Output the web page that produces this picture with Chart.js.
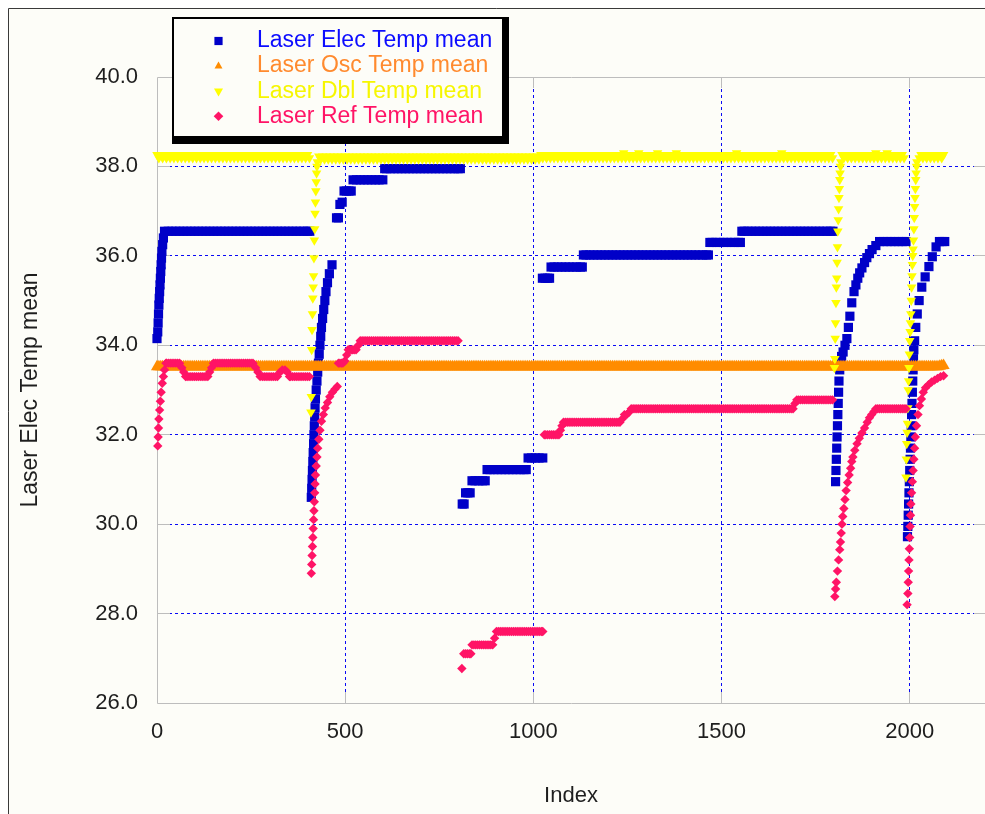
<!DOCTYPE html>
<html lang="en">
<head>
<meta charset="utf-8">
<title>Laser Elec Temp mean</title>
<script src="https://cdn.jsdelivr.net/npm/chart.js@4.4.1/dist/chart.umd.min.js"></script>
<style>
  html, body { margin: 0; padding: 0; background: #fff; overflow: hidden; }
  canvas { display: block; }
</style>
</head>
<body>
<canvas id="tempChart" width="985" height="814"></canvas>
<script>
const xTickValues = [0, 500, 1000, 1500, 2000];
const yTickValues = [26, 28, 30, 32, 34, 36, 38, 40];

const seriesNames = [
  "Laser Elec Temp mean",
  "Laser Osc Temp mean",
  "Laser Dbl Temp mean",
  "Laser Ref Temp mean"
];

// [index, temperature]
const elecTemp = [
  [0, 34.15], [2, 34.3], [3, 34.5], [4, 34.7], [5, 34.9], [6, 35.05], [7, 35.2], [8, 35.35],
  [9, 35.5], [10, 35.65], [11, 35.8], [12, 35.95], [13, 36.1], [15, 36.25], [17, 36.4], [20, 36.55],
  [30, 36.55], [40, 36.55], [50, 36.55], [60, 36.55], [70, 36.55], [80, 36.55], [90, 36.55], [100, 36.55],
  [110, 36.55], [120, 36.55], [130, 36.55], [140, 36.55], [150, 36.55], [160, 36.55], [170, 36.55], [180, 36.55],
  [190, 36.55], [200, 36.55], [210, 36.55], [220, 36.55], [230, 36.55], [240, 36.55], [250, 36.55], [260, 36.55],
  [270, 36.55], [280, 36.55], [290, 36.55], [300, 36.55], [310, 36.55], [320, 36.55], [330, 36.55], [340, 36.55],
  [350, 36.55], [360, 36.55], [370, 36.55], [380, 36.55], [390, 36.55], [400, 36.55], [406, 36.55],
  [410, 30.6], [411, 30.8], [412, 31.0], [413, 31.2], [414, 31.4], [415, 31.6], [416, 31.8], [417, 32.0],
  [418, 32.2], [419, 32.4], [420, 32.6], [421, 32.8], [423, 33.0], [425, 33.2], [427, 33.4], [429, 33.6],
  [431, 33.8], [433, 34.0], [435, 34.2], [437, 34.4], [440, 34.6], [443, 34.8], [446, 35.0], [449, 35.2],
  [453, 35.4], [458, 35.6], [465, 35.8],
  [477, 36.85], [482, 36.85], [486, 37.15], [492, 37.2], [497, 37.45], [503, 37.45], [510, 37.45], [516, 37.45],
  [521, 37.7], [530, 37.7], [540, 37.7], [550, 37.7], [560, 37.7], [570, 37.7], [580, 37.7], [590, 37.7], [600, 37.7],
  [605, 37.95], [610, 37.95], [620, 37.95], [630, 37.95], [640, 37.95], [650, 37.95], [660, 37.95], [670, 37.95],
  [680, 37.95], [690, 37.95], [700, 37.95], [710, 37.95], [720, 37.95], [730, 37.95], [740, 37.95], [750, 37.95],
  [760, 37.95], [770, 37.95], [780, 37.95], [790, 37.95], [800, 37.95], [806, 37.95],
  [811, 30.45], [816, 30.45], [820, 30.7], [826, 30.7], [832, 30.7], [837, 30.97], [845, 30.97], [855, 30.97],
  [865, 30.97], [872, 30.97], [877, 31.22], [885, 31.22], [895, 31.22], [905, 31.22], [915, 31.22], [925, 31.22],
  [935, 31.22], [945, 31.22], [955, 31.22], [965, 31.22], [975, 31.22], [981, 31.22],
  [986, 31.48], [995, 31.48], [1005, 31.48], [1015, 31.48], [1025, 31.48],
  [1024, 35.5], [1031, 35.5], [1038, 35.5], [1043, 35.5], [1047, 35.75], [1055, 35.75], [1065, 35.75], [1075, 35.75],
  [1085, 35.75], [1095, 35.75], [1105, 35.75], [1115, 35.75], [1125, 35.75], [1130, 35.75],
  [1133, 36.02], [1140, 36.02], [1150, 36.02], [1160, 36.02], [1170, 36.02], [1180, 36.02], [1190, 36.02], [1200, 36.02],
  [1210, 36.02], [1220, 36.02], [1230, 36.02], [1240, 36.02], [1250, 36.02], [1260, 36.02], [1270, 36.02], [1280, 36.02],
  [1290, 36.02], [1300, 36.02], [1310, 36.02], [1320, 36.02], [1330, 36.02], [1340, 36.02], [1350, 36.02], [1360, 36.02],
  [1370, 36.02], [1380, 36.02], [1390, 36.02], [1400, 36.02], [1410, 36.02], [1420, 36.02], [1430, 36.02], [1440, 36.02],
  [1450, 36.02], [1460, 36.02], [1465, 36.02],
  [1469, 36.3], [1475, 36.3], [1485, 36.3], [1495, 36.3], [1505, 36.3], [1515, 36.3], [1525, 36.3], [1535, 36.3],
  [1545, 36.3], [1550, 36.3],
  [1554, 36.55], [1560, 36.55], [1570, 36.55], [1580, 36.55], [1590, 36.55], [1600, 36.55], [1610, 36.55], [1620, 36.55],
  [1630, 36.55], [1640, 36.55], [1650, 36.55], [1660, 36.55], [1670, 36.55], [1680, 36.55], [1690, 36.55], [1700, 36.55],
  [1710, 36.55], [1720, 36.55], [1730, 36.55], [1740, 36.55], [1750, 36.55], [1760, 36.55], [1770, 36.55], [1780, 36.55],
  [1790, 36.55], [1796, 36.55],
  [1803, 30.95], [1804, 31.2], [1805, 31.45], [1806, 31.7], [1807, 31.95], [1808, 32.2], [1809, 32.45], [1810, 32.7],
  [1811, 32.95], [1812, 33.2], [1814, 33.45], [1816, 33.65], [1819, 33.75], [1823, 33.85], [1828, 34.0], [1833, 34.15],
  [1837, 34.4], [1841, 34.65], [1846, 34.95], [1852, 35.2], [1857, 35.35], [1862, 35.5], [1867, 35.62], [1873, 35.73],
  [1880, 35.85], [1886, 35.96], [1893, 36.05], [1900, 36.14], [1910, 36.23], [1920, 36.32], [1930, 36.32], [1940, 36.32],
  [1950, 36.32], [1960, 36.32], [1970, 36.32], [1980, 36.32], [1990, 36.32],
  [1994, 29.72], [1995, 29.95], [1996, 30.2], [1997, 30.45], [1998, 30.7], [1999, 30.95], [2000, 31.2], [2001, 31.45],
  [2002, 31.7], [2003, 31.95], [2004, 32.2], [2005, 32.45], [2006, 32.7], [2007, 32.95], [2008, 33.2], [2009, 33.45],
  [2010, 33.7], [2011, 33.9], [2013, 34.1], [2016, 34.4], [2020, 34.7], [2025, 35.0], [2032, 35.3], [2041, 35.53],
  [2051, 35.76], [2060, 35.98], [2070, 36.2], [2079, 36.32], [2086, 36.32], [2093, 36.32]
];

const oscTemp = [
  [0, 33.52], [5, 33.52], [10, 33.52], [15, 33.52], [20, 33.52], [25, 33.52], [30, 33.52], [35, 33.52], [40, 33.52], [45, 33.52],
  [50, 33.52], [55, 33.52], [60, 33.52], [65, 33.52], [70, 33.52], [75, 33.52], [80, 33.52], [85, 33.52], [90, 33.52], [95, 33.52],
  [100, 33.52], [105, 33.52], [110, 33.52], [115, 33.52], [120, 33.52], [125, 33.52], [130, 33.52], [135, 33.52], [140, 33.52], [145, 33.52],
  [150, 33.52], [155, 33.52], [160, 33.52], [165, 33.52], [170, 33.52], [175, 33.52], [180, 33.52], [185, 33.52], [190, 33.52], [195, 33.52],
  [200, 33.52], [205, 33.52], [210, 33.52], [215, 33.52], [220, 33.52], [225, 33.52], [230, 33.52], [235, 33.52], [240, 33.52], [245, 33.52],
  [250, 33.52], [255, 33.52], [260, 33.52], [265, 33.52], [270, 33.52], [275, 33.52], [280, 33.52], [285, 33.52], [290, 33.52], [295, 33.52],
  [300, 33.52], [305, 33.52], [310, 33.52], [315, 33.52], [320, 33.52], [325, 33.52], [330, 33.52], [335, 33.52], [340, 33.52], [345, 33.52],
  [350, 33.52], [355, 33.52], [360, 33.52], [365, 33.52], [370, 33.52], [375, 33.52], [380, 33.52], [385, 33.52], [390, 33.52], [395, 33.52],
  [400, 33.52], [405, 33.52], [410, 33.52], [415, 33.52], [420, 33.52], [425, 33.52], [430, 33.52], [435, 33.52], [440, 33.52], [445, 33.52],
  [450, 33.52], [455, 33.52], [460, 33.52], [465, 33.52], [470, 33.52], [475, 33.52], [480, 33.52], [485, 33.52], [490, 33.52], [495, 33.52],
  [500, 33.52], [505, 33.52], [510, 33.52], [515, 33.52], [520, 33.52], [525, 33.52], [530, 33.52], [535, 33.52], [540, 33.52], [545, 33.52],
  [550, 33.52], [555, 33.52], [560, 33.52], [565, 33.52], [570, 33.52], [575, 33.52], [580, 33.52], [585, 33.52], [590, 33.52], [595, 33.52],
  [600, 33.52], [605, 33.52], [610, 33.52], [615, 33.52], [620, 33.52], [625, 33.52], [630, 33.52], [635, 33.52], [640, 33.52], [645, 33.52],
  [650, 33.52], [655, 33.52], [660, 33.52], [665, 33.52], [670, 33.52], [675, 33.52], [680, 33.52], [685, 33.52], [690, 33.52], [695, 33.52],
  [700, 33.52], [705, 33.52], [710, 33.52], [715, 33.52], [720, 33.52], [725, 33.52], [730, 33.52], [735, 33.52], [740, 33.52], [745, 33.52],
  [750, 33.52], [755, 33.52], [760, 33.52], [765, 33.52], [770, 33.52], [775, 33.52], [780, 33.52], [785, 33.52], [790, 33.52], [795, 33.52],
  [800, 33.52], [805, 33.52], [810, 33.52], [815, 33.52], [820, 33.52], [825, 33.52], [830, 33.52], [835, 33.52], [840, 33.52], [845, 33.52],
  [850, 33.52], [855, 33.52], [860, 33.52], [865, 33.52], [870, 33.52], [875, 33.52], [880, 33.52], [885, 33.52], [890, 33.52], [895, 33.52],
  [900, 33.52], [905, 33.52], [910, 33.52], [915, 33.52], [920, 33.52], [925, 33.52], [930, 33.52], [935, 33.52], [940, 33.52], [945, 33.52],
  [950, 33.52], [955, 33.52], [960, 33.52], [965, 33.52], [970, 33.52], [975, 33.52], [980, 33.52], [985, 33.52], [990, 33.52], [995, 33.52],
  [1000, 33.52], [1005, 33.52], [1010, 33.52], [1015, 33.52], [1020, 33.52], [1025, 33.52], [1030, 33.52], [1035, 33.52], [1040, 33.52], [1045, 33.52],
  [1050, 33.52], [1055, 33.52], [1060, 33.52], [1065, 33.52], [1070, 33.52], [1075, 33.52], [1080, 33.52], [1085, 33.52], [1090, 33.52], [1095, 33.52],
  [1100, 33.52], [1105, 33.52], [1110, 33.52], [1115, 33.52], [1120, 33.52], [1125, 33.52], [1130, 33.52], [1135, 33.52], [1140, 33.52], [1145, 33.52],
  [1150, 33.52], [1155, 33.52], [1160, 33.52], [1165, 33.52], [1170, 33.52], [1175, 33.52], [1180, 33.52], [1185, 33.52], [1190, 33.52], [1195, 33.52],
  [1200, 33.52], [1205, 33.52], [1210, 33.52], [1215, 33.52], [1220, 33.52], [1225, 33.52], [1230, 33.52], [1235, 33.52], [1240, 33.52], [1245, 33.52],
  [1250, 33.52], [1255, 33.52], [1260, 33.52], [1265, 33.52], [1270, 33.52], [1275, 33.52], [1280, 33.52], [1285, 33.52], [1290, 33.52], [1295, 33.52],
  [1300, 33.52], [1305, 33.52], [1310, 33.52], [1315, 33.52], [1320, 33.52], [1325, 33.52], [1330, 33.52], [1335, 33.52], [1340, 33.52], [1345, 33.52],
  [1350, 33.52], [1355, 33.52], [1360, 33.52], [1365, 33.52], [1370, 33.52], [1375, 33.52], [1380, 33.52], [1385, 33.52], [1390, 33.52], [1395, 33.52],
  [1400, 33.52], [1405, 33.52], [1410, 33.52], [1415, 33.52], [1420, 33.52], [1425, 33.52], [1430, 33.52], [1435, 33.52], [1440, 33.52], [1445, 33.52],
  [1450, 33.52], [1455, 33.52], [1460, 33.52], [1465, 33.52], [1470, 33.52], [1475, 33.52], [1480, 33.52], [1485, 33.52], [1490, 33.52], [1495, 33.52],
  [1500, 33.52], [1505, 33.52], [1510, 33.52], [1515, 33.52], [1520, 33.52], [1525, 33.52], [1530, 33.52], [1535, 33.52], [1540, 33.52], [1545, 33.52],
  [1550, 33.52], [1555, 33.52], [1560, 33.52], [1565, 33.52], [1570, 33.52], [1575, 33.52], [1580, 33.52], [1585, 33.52], [1590, 33.52], [1595, 33.52],
  [1600, 33.52], [1605, 33.52], [1610, 33.52], [1615, 33.52], [1620, 33.52], [1625, 33.52], [1630, 33.52], [1635, 33.52], [1640, 33.52], [1645, 33.52],
  [1650, 33.52], [1655, 33.52], [1660, 33.52], [1665, 33.52], [1670, 33.52], [1675, 33.52], [1680, 33.52], [1685, 33.52], [1690, 33.52], [1695, 33.52],
  [1700, 33.52], [1705, 33.52], [1710, 33.52], [1715, 33.52], [1720, 33.52], [1725, 33.52], [1730, 33.52], [1735, 33.52], [1740, 33.52], [1745, 33.52],
  [1750, 33.52], [1755, 33.52], [1760, 33.52], [1765, 33.52], [1770, 33.52], [1775, 33.52], [1780, 33.52], [1785, 33.52], [1790, 33.52], [1795, 33.52],
  [1800, 33.52], [1805, 33.52], [1810, 33.52], [1815, 33.52], [1820, 33.52], [1825, 33.52], [1830, 33.52], [1835, 33.52], [1840, 33.52], [1845, 33.52],
  [1850, 33.52], [1855, 33.52], [1860, 33.52], [1865, 33.52], [1870, 33.52], [1875, 33.52], [1880, 33.52], [1885, 33.52], [1890, 33.52], [1895, 33.52],
  [1900, 33.52], [1905, 33.52], [1910, 33.52], [1915, 33.52], [1920, 33.52], [1925, 33.52], [1930, 33.52], [1935, 33.52], [1940, 33.52], [1945, 33.52],
  [1950, 33.52], [1955, 33.52], [1960, 33.52], [1965, 33.52], [1970, 33.52], [1975, 33.52], [1980, 33.52], [1985, 33.52], [1990, 33.52], [1995, 33.52],
  [2000, 33.52], [2005, 33.52], [2010, 33.52], [2015, 33.52], [2020, 33.52], [2025, 33.52], [2030, 33.52], [2035, 33.52], [2040, 33.52], [2045, 33.52],
  [2050, 33.52], [2055, 33.52], [2060, 33.52], [2065, 33.52], [2070, 33.52], [2075, 33.52], [2080, 33.53], [2085, 33.54], [2090, 33.55]
];

const dblTemp = [
  [0, 38.26], [5, 38.19], [10, 38.26], [15, 38.19], [20, 38.26], [25, 38.19], [30, 38.26], [35, 38.19], [40, 38.26], [45, 38.19],
  [50, 38.26], [55, 38.19], [60, 38.26], [65, 38.19], [70, 38.26], [75, 38.19], [80, 38.26], [85, 38.19], [90, 38.26], [95, 38.19],
  [100, 38.26], [105, 38.19], [110, 38.26], [115, 38.19], [120, 38.26], [125, 38.19], [130, 38.26], [135, 38.19], [140, 38.26], [145, 38.19],
  [150, 38.26], [155, 38.19], [160, 38.26], [165, 38.19], [170, 38.26], [175, 38.19], [180, 38.26], [185, 38.19], [190, 38.26], [195, 38.19],
  [200, 38.26], [205, 38.19], [210, 38.26], [215, 38.19], [220, 38.26], [225, 38.19], [230, 38.26], [235, 38.19], [240, 38.26], [245, 38.19],
  [250, 38.26], [255, 38.19], [260, 38.26], [265, 38.19], [270, 38.26], [275, 38.19], [280, 38.26], [285, 38.19], [290, 38.26], [295, 38.19],
  [300, 38.26], [305, 38.19], [310, 38.26], [315, 38.19], [320, 38.26], [325, 38.19], [330, 38.26], [335, 38.19], [340, 38.26], [345, 38.19],
  [350, 38.26], [355, 38.19], [360, 38.26], [365, 38.19], [370, 38.26], [375, 38.19], [380, 38.26], [385, 38.19], [390, 38.26], [395, 38.19],
  [400, 38.26], [405, 38.19],
  [409, 32.5], [410, 32.85], [411, 33.9], [412, 34.35], [413, 34.7], [414, 35.05], [415, 35.3], [416, 35.55], [417, 35.95],
  [418, 36.35], [419, 36.6], [420, 36.95], [421, 37.2], [422, 37.45], [423, 37.65], [424, 37.85], [425, 38.0], [426, 38.1],
  [430, 38.23], [435, 38.16], [440, 38.23], [445, 38.16], [450, 38.23], [455, 38.16], [460, 38.23], [465, 38.16], [470, 38.23], [475, 38.16],
  [480, 38.23], [485, 38.16], [490, 38.23], [495, 38.16], [500, 38.23], [505, 38.16], [510, 38.23], [515, 38.16], [520, 38.23], [525, 38.16],
  [530, 38.23], [535, 38.16], [540, 38.23], [545, 38.16], [550, 38.23], [555, 38.16], [560, 38.23], [565, 38.16], [570, 38.23], [575, 38.16],
  [580, 38.23], [585, 38.16], [590, 38.23], [595, 38.16], [600, 38.23], [605, 38.16], [610, 38.23], [615, 38.16], [620, 38.23], [625, 38.16],
  [630, 38.23], [635, 38.16], [640, 38.23], [645, 38.16], [650, 38.23], [655, 38.16], [660, 38.23], [665, 38.16], [670, 38.23], [675, 38.16],
  [680, 38.23], [685, 38.16], [690, 38.23], [695, 38.16], [700, 38.23], [705, 38.16], [710, 38.23], [715, 38.16], [720, 38.23], [725, 38.16],
  [730, 38.23], [735, 38.16], [740, 38.23], [745, 38.16], [750, 38.23], [755, 38.16], [760, 38.23], [765, 38.16], [770, 38.23], [775, 38.16],
  [780, 38.23], [785, 38.16], [790, 38.23], [795, 38.16], [800, 38.23], [805, 38.16], [810, 38.23], [815, 38.16], [820, 38.23], [825, 38.16],
  [830, 38.23], [835, 38.16], [840, 38.23], [845, 38.16], [850, 38.23], [855, 38.16], [860, 38.23], [865, 38.16], [870, 38.23], [875, 38.16],
  [880, 38.23], [885, 38.16], [890, 38.23], [895, 38.16], [900, 38.23], [905, 38.16], [910, 38.23], [915, 38.16], [920, 38.23], [925, 38.16],
  [930, 38.23], [935, 38.16], [940, 38.23], [945, 38.16], [950, 38.23], [955, 38.16], [960, 38.23], [965, 38.16], [970, 38.23], [975, 38.16],
  [980, 38.23], [985, 38.16], [990, 38.23], [995, 38.16], [1000, 38.23], [1005, 38.16], [1010, 38.23], [1015, 38.16],
  [1020, 38.26], [1025, 38.19], [1030, 38.26], [1035, 38.19], [1040, 38.26], [1045, 38.19], [1050, 38.26], [1055, 38.19], [1060, 38.26], [1065, 38.19],
  [1070, 38.26], [1075, 38.19], [1080, 38.26], [1085, 38.19], [1090, 38.26], [1095, 38.19], [1100, 38.26], [1105, 38.19], [1110, 38.26], [1115, 38.19],
  [1120, 38.26], [1125, 38.19], [1130, 38.26], [1135, 38.19], [1140, 38.26], [1145, 38.19], [1150, 38.26], [1155, 38.19], [1160, 38.26], [1165, 38.19],
  [1170, 38.26], [1175, 38.19], [1180, 38.26], [1185, 38.19], [1190, 38.26], [1195, 38.19], [1200, 38.26], [1205, 38.19], [1210, 38.26], [1215, 38.19],
  [1220, 38.26], [1225, 38.19], [1230, 38.26], [1235, 38.19], [1240, 38.3], [1245, 38.19], [1250, 38.26], [1255, 38.19], [1260, 38.26], [1265, 38.19],
  [1270, 38.26], [1275, 38.19], [1280, 38.3], [1285, 38.19], [1290, 38.26], [1295, 38.19], [1300, 38.26], [1305, 38.19], [1310, 38.26], [1315, 38.19],
  [1320, 38.26], [1325, 38.19], [1330, 38.3], [1335, 38.19], [1340, 38.26], [1345, 38.19], [1350, 38.26], [1355, 38.19], [1360, 38.26], [1365, 38.19],
  [1370, 38.26], [1375, 38.19], [1380, 38.3], [1385, 38.19], [1390, 38.26], [1395, 38.19], [1400, 38.26], [1405, 38.19], [1410, 38.26], [1415, 38.19],
  [1420, 38.26], [1425, 38.19], [1430, 38.26], [1435, 38.19], [1440, 38.26], [1445, 38.19], [1450, 38.26], [1455, 38.19], [1460, 38.26], [1465, 38.19],
  [1470, 38.26], [1475, 38.19], [1480, 38.26], [1485, 38.19], [1490, 38.26], [1495, 38.19], [1500, 38.26], [1505, 38.19], [1510, 38.26], [1515, 38.19],
  [1520, 38.26], [1525, 38.19], [1530, 38.26], [1535, 38.19], [1540, 38.3], [1545, 38.19], [1550, 38.26], [1555, 38.19], [1560, 38.26], [1565, 38.19],
  [1570, 38.26], [1575, 38.19], [1580, 38.26], [1585, 38.19], [1590, 38.26], [1595, 38.19], [1600, 38.26], [1605, 38.19], [1610, 38.26], [1615, 38.19],
  [1620, 38.26], [1625, 38.19], [1630, 38.26], [1635, 38.19], [1640, 38.26], [1645, 38.19], [1650, 38.26], [1655, 38.19], [1660, 38.3], [1665, 38.19],
  [1670, 38.26], [1675, 38.19], [1680, 38.26], [1685, 38.19], [1690, 38.26], [1695, 38.19], [1700, 38.26], [1705, 38.19], [1710, 38.26], [1715, 38.19],
  [1720, 38.26], [1725, 38.19], [1730, 38.26], [1735, 38.19], [1740, 38.26], [1745, 38.19], [1750, 38.26], [1755, 38.19], [1760, 38.26], [1765, 38.19],
  [1770, 38.26], [1775, 38.19], [1780, 38.26], [1785, 38.19], [1790, 38.26], [1795, 38.19],
  [1800, 33.5], [1801, 33.7], [1802, 34.15], [1803, 34.5], [1804, 34.95], [1805, 35.3], [1806, 35.5], [1807, 35.85], [1808, 36.2],
  [1809, 36.55], [1810, 36.8], [1811, 37.05], [1812, 37.3], [1813, 37.5], [1814, 37.7], [1815, 37.85], [1816, 38.0], [1817, 38.1],
  [1820, 38.26], [1825, 38.19], [1830, 38.26], [1835, 38.19], [1840, 38.26], [1845, 38.19], [1850, 38.26], [1855, 38.19], [1860, 38.26], [1865, 38.19],
  [1870, 38.26], [1875, 38.19], [1880, 38.26], [1885, 38.19], [1890, 38.26], [1895, 38.19], [1900, 38.26], [1905, 38.19], [1910, 38.3], [1915, 38.19],
  [1920, 38.26], [1925, 38.19], [1930, 38.26], [1935, 38.19], [1940, 38.3], [1945, 38.19], [1950, 38.26], [1955, 38.19], [1960, 38.26], [1965, 38.19],
  [1970, 38.26], [1975, 38.19], [1980, 38.26], [1985, 38.19],
  [1990, 31.05], [1991, 31.45], [1992, 31.8], [1993, 32.05], [1994, 32.25], [1995, 32.6], [1996, 33.0], [1997, 33.2], [1998, 33.5],
  [1999, 33.8], [2000, 34.1], [2001, 34.3], [2002, 34.5], [2003, 34.7], [2004, 35.0], [2005, 35.3], [2006, 35.55], [2007, 35.8],
  [2008, 36.0], [2009, 36.15], [2010, 36.35], [2011, 36.6], [2012, 36.85], [2013, 37.1], [2014, 37.3], [2015, 37.5], [2016, 37.7],
  [2017, 37.85], [2018, 38.0], [2019, 38.1],
  [2025, 38.19], [2030, 38.26], [2035, 38.19], [2040, 38.26], [2045, 38.19], [2050, 38.26], [2055, 38.19], [2060, 38.26], [2065, 38.19], [2070, 38.26],
  [2075, 38.19], [2080, 38.26], [2085, 38.19], [2090, 38.26]
];

const refTemp = [
  [2, 31.75], [3, 31.95], [4, 32.15], [5, 32.35], [7, 32.55], [9, 32.75], [11, 32.95], [14, 33.15], [17, 33.3], [20, 33.45],
  [24, 33.6], [25, 33.6], [30, 33.6], [35, 33.6], [40, 33.6], [45, 33.6], [50, 33.6], [55, 33.6], [60, 33.6],
  [66, 33.5], [71, 33.4], [76, 33.3], [80, 33.3], [85, 33.3], [90, 33.3], [95, 33.3], [100, 33.3], [105, 33.3], [110, 33.3],
  [115, 33.3], [120, 33.3], [125, 33.3], [130, 33.3], [135, 33.3], [140, 33.4], [145, 33.5],
  [150, 33.6], [155, 33.6], [160, 33.6], [165, 33.6], [170, 33.6], [175, 33.6], [180, 33.6], [185, 33.6], [190, 33.6], [195, 33.6],
  [200, 33.6], [205, 33.6], [210, 33.6], [215, 33.6], [220, 33.6], [225, 33.6], [230, 33.6], [235, 33.6], [240, 33.6], [245, 33.6],
  [250, 33.6], [255, 33.6], [262, 33.5], [268, 33.4], [274, 33.3], [280, 33.3], [285, 33.3], [290, 33.3], [295, 33.3], [300, 33.3],
  [305, 33.3], [310, 33.3], [315, 33.3], [320, 33.3], [327, 33.4], [333, 33.45], [340, 33.45], [346, 33.4], [352, 33.3], [355, 33.3],
  [360, 33.3], [365, 33.3], [370, 33.3], [375, 33.3], [380, 33.3], [385, 33.3], [390, 33.3], [395, 33.3], [400, 33.3], [405, 33.3],
  [410, 28.9], [411, 29.1], [412, 29.3], [413, 29.5], [414, 29.7], [415, 29.9], [416, 30.1], [417, 30.3], [418, 30.5], [419, 30.7],
  [420, 30.9], [421, 31.1], [423, 31.3], [425, 31.5], [427, 31.7], [430, 31.9], [433, 32.1], [437, 32.3], [442, 32.45], [447, 32.6],
  [453, 32.72], [459, 32.85], [466, 32.95], [473, 33.02], [479, 33.08],
  [482, 33.6], [486, 33.6], [490, 33.6], [494, 33.6], [499, 33.65], [504, 33.78], [508, 33.9], [512, 33.9], [516, 33.9], [520, 33.9],
  [524, 33.9], [529, 33.9], [535, 34.0], [540, 34.1], [545, 34.1], [550, 34.1], [555, 34.1], [560, 34.1], [565, 34.1], [570, 34.1],
  [575, 34.1], [580, 34.1], [585, 34.1], [590, 34.1], [595, 34.1], [600, 34.1], [605, 34.1], [610, 34.1], [615, 34.1], [620, 34.1],
  [625, 34.1], [630, 34.1], [635, 34.1], [640, 34.1], [645, 34.1], [650, 34.1], [655, 34.1], [660, 34.1], [665, 34.1], [670, 34.1],
  [675, 34.1], [680, 34.1], [685, 34.1], [690, 34.1], [695, 34.1], [700, 34.1], [705, 34.1], [710, 34.1], [715, 34.1], [720, 34.1],
  [725, 34.1], [730, 34.1], [735, 34.1], [740, 34.1], [745, 34.1], [750, 34.1], [755, 34.1], [760, 34.1], [765, 34.1], [770, 34.1],
  [775, 34.1], [780, 34.1], [785, 34.1], [790, 34.1], [795, 34.1], [800, 34.1],
  [810, 26.77], [815, 27.1], [820, 27.1], [825, 27.1], [830, 27.1], [834, 27.1], [837, 27.3], [842, 27.3], [847, 27.3], [852, 27.3],
  [857, 27.3], [862, 27.3], [867, 27.3], [872, 27.3], [877, 27.3], [882, 27.3], [887, 27.3], [892, 27.3], [897, 27.45], [902, 27.6],
  [907, 27.6], [912, 27.6], [917, 27.6], [922, 27.6], [927, 27.6], [932, 27.6], [937, 27.6], [942, 27.6], [947, 27.6], [952, 27.6],
  [957, 27.6], [962, 27.6], [967, 27.6], [972, 27.6], [977, 27.6], [982, 27.6], [987, 27.6], [992, 27.6], [997, 27.6], [1002, 27.6],
  [1007, 27.6], [1012, 27.6], [1017, 27.6], [1022, 27.6], [1025, 27.6],
  [1029, 32.0], [1033, 32.0], [1038, 32.0], [1043, 32.0], [1048, 32.0], [1053, 32.0], [1058, 32.0], [1063, 32.0], [1068, 32.0], [1072, 32.1],
  [1076, 32.2], [1080, 32.28], [1085, 32.28], [1090, 32.28], [1095, 32.28], [1100, 32.28], [1105, 32.28], [1110, 32.28], [1115, 32.28], [1120, 32.28],
  [1125, 32.28], [1130, 32.28], [1135, 32.28], [1140, 32.28], [1145, 32.28], [1150, 32.28], [1155, 32.28], [1160, 32.28], [1165, 32.28], [1170, 32.28],
  [1175, 32.28], [1180, 32.28], [1185, 32.28], [1190, 32.28], [1195, 32.28], [1200, 32.28], [1205, 32.28], [1210, 32.28], [1215, 32.28], [1220, 32.28],
  [1225, 32.28], [1230, 32.28], [1236, 32.35], [1242, 32.45], [1248, 32.45], [1254, 32.5],
  [1260, 32.58], [1265, 32.58], [1270, 32.58], [1275, 32.58], [1280, 32.58], [1285, 32.58], [1290, 32.58], [1295, 32.58], [1300, 32.58], [1305, 32.58],
  [1310, 32.58], [1315, 32.58], [1320, 32.58], [1325, 32.58], [1330, 32.58], [1335, 32.58], [1340, 32.58], [1345, 32.58], [1350, 32.58], [1355, 32.58],
  [1360, 32.58], [1365, 32.58], [1370, 32.58], [1375, 32.58], [1380, 32.58], [1385, 32.58], [1390, 32.58], [1395, 32.58], [1400, 32.58], [1405, 32.58],
  [1410, 32.58], [1415, 32.58], [1420, 32.58], [1425, 32.58], [1430, 32.58], [1435, 32.58], [1440, 32.58], [1445, 32.58], [1450, 32.58], [1455, 32.58],
  [1460, 32.58], [1465, 32.58], [1470, 32.58], [1475, 32.58], [1480, 32.58], [1485, 32.58], [1490, 32.58], [1495, 32.58], [1500, 32.58], [1505, 32.58],
  [1510, 32.58], [1515, 32.58], [1520, 32.58], [1525, 32.58], [1530, 32.58], [1535, 32.58], [1540, 32.58], [1545, 32.58], [1550, 32.58], [1555, 32.58],
  [1560, 32.58], [1565, 32.58], [1570, 32.58], [1575, 32.58], [1580, 32.58], [1585, 32.58], [1590, 32.58], [1595, 32.58], [1600, 32.58], [1605, 32.58],
  [1610, 32.58], [1615, 32.58], [1620, 32.58], [1625, 32.58], [1630, 32.58], [1635, 32.58], [1640, 32.58], [1645, 32.58], [1650, 32.58], [1655, 32.58],
  [1660, 32.58], [1665, 32.58], [1670, 32.58], [1675, 32.58], [1680, 32.58], [1685, 32.58], [1690, 32.58], [1695, 32.7],
  [1700, 32.78], [1705, 32.78], [1710, 32.78], [1715, 32.78], [1720, 32.78], [1725, 32.78], [1730, 32.78], [1735, 32.78], [1740, 32.78], [1745, 32.78],
  [1750, 32.78], [1755, 32.78], [1760, 32.78], [1765, 32.78], [1770, 32.78], [1775, 32.78], [1780, 32.78], [1785, 32.78], [1790, 32.78], [1795, 32.78],
  [1801, 28.38], [1803, 28.55], [1805, 28.7], [1808, 28.95], [1811, 29.2], [1814, 29.43], [1816, 29.6], [1818, 29.8], [1820, 30.0], [1822, 30.17],
  [1825, 30.35], [1828, 30.55], [1831, 30.75], [1835, 30.93], [1839, 31.1], [1843, 31.25], [1846, 31.4], [1849, 31.5], [1854, 31.65], [1860, 31.8],
  [1866, 31.92], [1873, 32.04], [1880, 32.15], [1887, 32.28], [1893, 32.38], [1899, 32.45], [1905, 32.52],
  [1910, 32.58], [1915, 32.58], [1920, 32.58], [1925, 32.58], [1930, 32.58], [1935, 32.58], [1940, 32.58], [1945, 32.58], [1950, 32.58], [1955, 32.58],
  [1960, 32.58], [1965, 32.58], [1970, 32.58], [1975, 32.58], [1980, 32.58], [1985, 32.58], [1990, 32.58],
  [1993, 28.2], [1995, 28.45], [1996, 28.7], [1997, 28.95], [1998, 29.2], [1999, 29.45], [2000, 29.7], [2001, 29.95], [2002, 30.2], [2003, 30.45],
  [2005, 30.7], [2007, 30.95], [2009, 31.2], [2011, 31.45], [2013, 31.7], [2015, 31.95], [2018, 32.2], [2022, 32.45], [2026, 32.65], [2031, 32.8],
  [2036, 32.95], [2042, 33.05], [2050, 33.12], [2058, 33.18], [2066, 33.22], [2074, 33.26], [2082, 33.3], [2090, 33.32]
];

const FONT = "'Liberation Sans', Arial, sans-serif";
const BG = "#fdfdf8";
const GRID_BLUE = "#0a0af5";
const FRAME_GRAY = "#bdbdbd";
const TEXT_DARK = "#1e1e1e";

const styles = [
  { color: "#0000c8", text: "#0c0cff", shape: "rect", radius: 6.5, rotation: 0, legendRadius: 5.8 },
  { color: "#ff8c00", text: "#ff8a2e", shape: "triangle", radius: 7, rotation: 0, legendRadius: 4.6 },
  { color: "#ffff00", text: "#f6f600", shape: "triangle", radius: 5.5, rotation: 180, legendRadius: 5.2 },
  { color: "#ff1466", text: "#ff1466", shape: "rectRot", radius: 4.7, rotation: 0, legendRadius: 4.8 }
];

function drawShape(ctx, shape, rotation, x, y, r) {
  ctx.beginPath();
  if (shape === "rect") {
    const h = r * Math.SQRT1_2;
    ctx.rect(x - h, y - h, 2 * h, 2 * h);
  } else if (shape === "rectRot") {
    ctx.moveTo(x, y - r);
    ctx.lineTo(x + r, y);
    ctx.lineTo(x, y + r);
    ctx.lineTo(x - r, y);
  } else {
    const dir = rotation === 180 ? -1 : 1;
    ctx.moveTo(x, y - dir * r);
    ctx.lineTo(x + r * 0.866, y + dir * r / 2);
    ctx.lineTo(x - r * 0.866, y + dir * r / 2);
  }
  ctx.closePath();
  ctx.fill();
}

const framePlugin = {
  id: "frame",
  beforeDraw(chart) {
    const ctx = chart.ctx;
    ctx.save();
    ctx.fillStyle = "#ffffff";
    ctx.fillRect(0, 0, chart.width, chart.height);
    ctx.fillStyle = BG;
    ctx.fillRect(9, 9, chart.width - 9, chart.height - 9);
    ctx.strokeStyle = "#3a3a3a";
    ctx.lineWidth = 1;
    ctx.beginPath();
    ctx.moveTo(8.5, chart.height);
    ctx.lineTo(8.5, 8.5);
    ctx.lineTo(chart.width, 8.5);
    ctx.stroke();
    ctx.restore();
  },
  beforeDatasetsDraw(chart) {
    const { ctx, chartArea: a, scales: { x, y } } = chart;
    const al = v => Math.round(v - 0.5) + 0.5;
    const stub = 11;
    ctx.save();
    ctx.strokeStyle = FRAME_GRAY;
    ctx.lineWidth = 1;
    ctx.beginPath();
    ctx.rect(al(a.left), al(a.top), al(a.right) - al(a.left), al(a.bottom) - al(a.top));
    xTickValues.forEach(v => {
      if (v === x.min) return;
      const px = al(x.getPixelForValue(v));
      ctx.moveTo(px, a.top); ctx.lineTo(px, a.top + stub);
      ctx.moveTo(px, a.bottom - stub); ctx.lineTo(px, a.bottom);
    });
    yTickValues.forEach(v => {
      if (v === y.min || v === y.max) return;
      const py = al(y.getPixelForValue(v));
      ctx.moveTo(a.left, py); ctx.lineTo(a.left + stub + 2, py);
      ctx.moveTo(a.right - stub, py); ctx.lineTo(a.right, py);
    });
    ctx.stroke();
    ctx.restore();
  },
  afterDraw(chart) {
    const ctx = chart.ctx;
    const box = { x: 172, y: 17, w: 331, h: 120 };
    ctx.save();
    // legend frame, thick right/bottom edge
    ctx.fillStyle = "#000000";
    ctx.fillRect(box.x, box.y, box.w + 6, box.h + 7);
    ctx.fillStyle = BG;
    ctx.fillRect(box.x + 2, box.y + 2, box.w - 3, box.h - 3);
    ctx.font = "23px " + FONT;
    ctx.textBaseline = "middle";
    ctx.textAlign = "left";
    seriesNames.forEach((name, i) => {
      const st = styles[i];
      const ry = 41 + i * 25.1;
      ctx.fillStyle = st.color;
      drawShape(ctx, st.shape, st.rotation, 218.5, ry, st.legendRadius);
      ctx.fillStyle = st.text;
      ctx.fillText(name, 257, ry);
    });
    ctx.restore();
  }
};

const allSeries = [elecTemp, oscTemp, dblTemp, refTemp];

const datasets = allSeries.map((pts, i) => ({
  label: seriesNames[i],
  data: pts.map(([x, y]) => ({ x, y })),
  pointStyle: styles[i].shape,
  pointRadius: styles[i].radius,
  pointHoverRadius: styles[i].radius,
  pointRotation: styles[i].rotation,
  pointBackgroundColor: styles[i].color,
  pointBorderColor: styles[i].color,
  pointBorderWidth: 0,
  showLine: false,
  clip: false,
  order: 3 - i
}));

new Chart(document.getElementById("tempChart"), {
  type: "scatter",
  data: { datasets },
  options: {
    responsive: false,
    animation: false,
    devicePixelRatio: 1,
    events: [],
    layout: { autoPadding: false, padding: { top: 77, right: 0, bottom: 0, left: 0 } },
    plugins: {
      legend: { display: false },
      tooltip: { enabled: false }
    },
    scales: {
      x: {
        type: "linear",
        min: 0,
        max: 2200,
        afterFit: s => { s.height = 111; s.paddingRight = 0; s.paddingLeft = 0; },
        afterBuildTicks: s => { s.ticks = xTickValues.map(v => ({ value: v })); },
        ticks: {
          padding: 16,
          color: TEXT_DARK,
          maxRotation: 0,
          autoSkip: false,
          font: { family: FONT, size: 22 },
          callback: v => String(v)
        },
        grid: {
          drawTicks: false,
          lineWidth: 1,
          color: c => (c.tick && c.tick.value === 0) ? "rgba(0,0,0,0)" : GRID_BLUE
        },
        border: { display: false, dash: [3, 3] },
        title: {
          display: true,
          text: "Index",
          color: TEXT_DARK,
          font: { family: FONT, size: 22 },
          padding: { top: 0, bottom: 5 }
        }
      },
      y: {
        type: "linear",
        min: 26,
        max: 40,
        afterFit: s => { s.width = 157; },
        afterBuildTicks: s => { s.ticks = yTickValues.map(v => ({ value: v })); },
        ticks: {
          padding: 19,
          color: TEXT_DARK,
          font: { family: FONT, size: 22 },
          callback: v => Number(v).toFixed(1)
        },
        grid: {
          drawTicks: false,
          lineWidth: 1,
          color: c => (c.tick && (c.tick.value === 26 || c.tick.value === 40)) ? "rgba(0,0,0,0)" : GRID_BLUE
        },
        border: { display: false, dash: [3, 3] },
        title: {
          display: true,
          text: "Laser Elec Temp mean",
          color: TEXT_DARK,
          font: { family: FONT, size: 23 },
          padding: { top: 17, bottom: 0 }
        }
      }
    }
  },
  plugins: [framePlugin]
});
</script>
</body>
</html>
